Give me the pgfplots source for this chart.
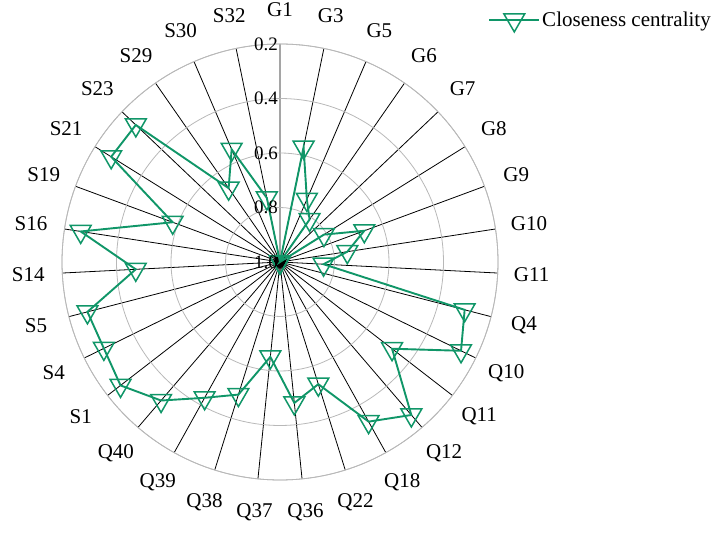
\documentclass[border=0pt]{standalone}
\usepackage{pgfplots}
\pgfplotsset{compat=1.18}
\usepgfplotslibrary{polar}
\usepackage{fontspec}
\setmainfont{Liberation Serif}
\definecolor{cc}{RGB}{16,150,104}
\begin{document}
\begin{tikzpicture}
\begin{polaraxis}[
  name=ax,
  scale only axis, width=436pt, height=436pt,
  xmin=0, xmax=360, ymin=0, ymax=0.8,
  xtick={8.710,20.323,31.935,43.548,55.161,66.774,78.387,90,101.613,113.226,124.839,136.452,148.065,159.677,171.290,182.903,194.516,206.129,217.742,229.355,240.968,252.581,264.194,275.806,287.419,299.032,310.645,322.258,333.871,345.484,357.097},
  xticklabels={G10,G9,G8,G7,G6,G5,G3,G1,S32,S30,S29,S23,S21,S19,S16,S14,S5,S4,S1,Q40,Q39,Q38,Q37,Q36,Q22,Q18,Q12,Q11,Q10,Q4,G11},
  ytick={0,0.2,0.4,0.6,0.8}, yticklabels={},
  xmajorgrids, ymajorgrids,
  x grid style={black, line width=0.8pt},
  y grid style={black!28, line width=0.8pt},
  axis line style={black!28, line width=0.8pt},
  y axis line style={draw=none},
  major tick length=0pt,
  xticklabel style={font=\fontsize{21}{24}\selectfont, inner sep=0pt, anchor=center, shift={(\tick:34pt)}},
  legend style={draw=none, fill=none, at={(axis description cs:1.5,1.053)}, anchor=east, font=\fontsize{21}{24}\selectfont},
  legend image code/.code={\draw[mark repeat=2,mark phase=2,#1] plot coordinates {(0pt,0pt) (25pt,0pt) (50pt,0pt)};},
  y filter/.expression={1-y},
]
\addplot[cc, line width=1.9pt, mark=triangle, mark size=12pt, mark options={rotate=180, solid, line width=1.5pt}] table {
90 1.00
78.387 0.57
66.774 0.75
55.161 0.81
43.548 1.00
31.935 0.81
20.323 0.67
8.710 0.75
-2.903 0.84
-14.516 0.30
-26.129 0.26
-37.742 0.48
-49.355 0.26
-60.968 0.33
-72.581 0.53
-84.194 0.48
-95.806 0.65
-107.419 0.49
-119.032 0.43
-130.645 0.33
-142.258 0.26
-153.871 0.28
-165.484 0.27
-177.097 0.47
-188.710 0.26
-200.323 0.58
-211.935 0.27
-223.548 0.27
-235.161 0.67
-246.774 0.55
-258.387 0.76
-270 1.00
};
\addlegendentry{Closeness centrality}
\end{polaraxis}
\begin{scope}[every node/.style={anchor=east, font=\fontsize{19}{21}\selectfont, inner sep=2pt}]
\node at ([yshift=218pt]ax.center) {0.2};
\node at ([yshift=163.5pt]ax.center) {0.4};
\node at ([yshift=109pt]ax.center) {0.6};
\node at ([yshift=54.5pt]ax.center) {0.8};
\node at (ax.center) {1.0};
\end{scope}
\pgfresetboundingbox
\path ([shift={(-280pt,-272pt)}]ax.center) rectangle ([shift={(440pt,262pt)}]ax.center);
\end{tikzpicture}
\end{document}
